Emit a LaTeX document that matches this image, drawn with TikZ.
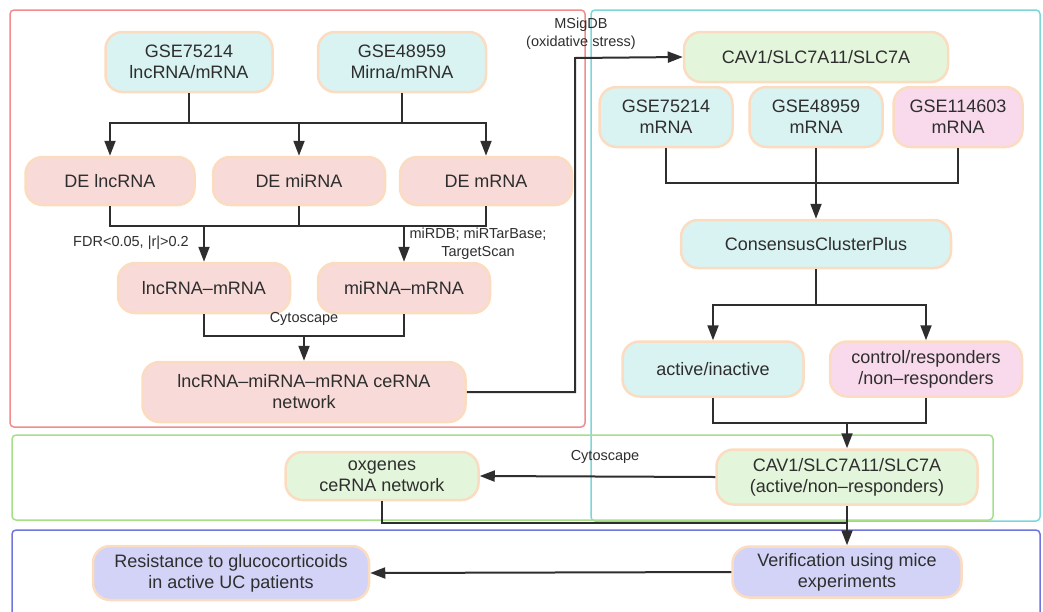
\documentclass[tikz,border=0pt]{standalone}
\usepackage{fontspec}
\setmainfont{Liberation Sans}
\usetikzlibrary{arrows.meta}
\definecolor{peach}{HTML}{FCDCC0}
\definecolor{fcyan}{HTML}{D8F3F2}
\definecolor{fpink}{HTML}{F8DAD8}
\definecolor{fgreen}{HTML}{E3F5DA}
\definecolor{fmag}{HTML}{F8DAEC}
\definecolor{flav}{HTML}{D2D3F6}
\definecolor{rred}{HTML}{F08C8C}
\definecolor{rcyan}{HTML}{7DD6DA}
\definecolor{rgreen}{HTML}{A5DF8A}
\definecolor{rblue}{HTML}{7075E0}
\definecolor{ink}{HTML}{2E2E2E}
\newcommand\mainfs{\fontsize{18}{21}\selectfont}
\newcommand\labfs{\fontsize{14.5}{18}\selectfont}
\tikzset{
  box/.style={draw=peach, line width=2.5pt, rounded corners=17pt, align=center,
    font=\mainfs, text=ink, inner sep=0pt},
  frame/.style={line width=1.5pt, rounded corners=4pt},
  ln/.style={draw=ink, line width=2pt},
  arr/.style={ln, -{Triangle[length=15pt,width=11pt]}},
  lab/.style={font=\labfs, text=ink, align=center, inner sep=0pt},
}
\begin{document}
\begin{tikzpicture}[x=1pt,y=-1pt]
\useasboundingbox (0,0) rectangle (1043,611);
\clip (0,0) rectangle (1043,611);
% frames
\draw[frame, rred] (10,10) rectangle (585,427);
\draw[frame, rcyan] (591,10) rectangle (1040,521);
\draw[frame, rgreen] (12,435) rectangle (993,520);
\draw[frame, rblue] (12,530) rectangle (1040,640);
% left panel nodes
\node[box, fill=fcyan, minimum width=167pt, minimum height=60pt] (g1) at (189,62) {GSE75214\\lncRNA/mRNA};
\node[box, fill=fcyan, minimum width=168pt, minimum height=60pt] (g2) at (402,62) {GSE48959\\Mirna/mRNA};
\node[box, fill=fpink, minimum width=169pt, minimum height=48pt] (d1) at (110,181) {DE lncRNA};
\node[box, fill=fpink, minimum width=172pt, minimum height=48pt] (d2) at (299,181) {DE miRNA};
\node[box, fill=fpink, minimum width=172pt, minimum height=48pt] (d3) at (486,181) {DE mRNA};
\node[box, fill=fpink, minimum width=172pt, minimum height=50pt] (lm) at (204,288) {lncRNA–mRNA};
\node[box, fill=fpink, minimum width=172pt, minimum height=50pt] (mm) at (404,288) {miRNA–mRNA};
\node[box, fill=fpink, minimum width=323pt, minimum height=60pt] (ce) at (304,392) {lncRNA–miRNA–mRNA ceRNA\\network};
% right panel nodes
\node[box, fill=fgreen, minimum width=264pt, minimum height=50pt] (cav) at (816,57) {CAV1/SLC7A11/SLC7A};
\node[box, fill=fcyan, minimum width=133pt, minimum height=60pt] (r1) at (666,117) {GSE75214\\mRNA};
\node[box, fill=fcyan, minimum width=133pt, minimum height=60pt] (r2) at (816,117) {GSE48959\\mRNA};
\node[box, fill=fmag, minimum width=129pt, minimum height=60pt] (r3) at (958,117) {GSE114603\\mRNA};
\node[box, fill=fcyan, minimum width=270pt, minimum height=48pt] (cc) at (816,244) {ConsensusClusterPlus};
\node[box, fill=fcyan, minimum width=181pt, minimum height=55pt] (ai) at (713,369) {active/inactive};
\node[box, fill=fmag, minimum width=192pt, minimum height=55pt] (cr) at (926,369) {control/responders\\/non–responders};
% green panel
\node[box, fill=fgreen, minimum width=261pt, minimum height=55pt] (cav2) at (847,477) {CAV1/SLC7A11/SLC7A\\(active/non–responders)};
\node[box, fill=fgreen, minimum width=193pt, minimum height=48pt] (ox) at (382,476) {oxgenes\\ceRNA network};
% blue panel
\node[box, fill=flav, minimum width=229pt, minimum height=51pt] (ver) at (847,572) {Verification using mice\\experiments};
\node[box, fill=flav, minimum width=276pt, minimum height=54pt] (res) at (231,573) {Resistance to glucocorticoids\\in active UC patients};
% junctions
\coordinate (b1) at (299,123);
\coordinate (b2) at (304,226);
\coordinate (b3) at (304,336);
\coordinate (t1) at (575,58);
\coordinate (b4) at (816,183);
\coordinate (b5) at (816,305);
\coordinate (b6) at (847,423);
\coordinate (b7) at (847,523);
% left connectors
\draw[ln] (g1.south) |- (b1);
\draw[ln] (g2.south) |- (b1);
\draw[arr] (b1) -| (d1.north);
\draw[arr] (b1) -- (d2.north);
\draw[arr] (b1) -| (d3.north);
\draw[ln] (d1.south) |- (b2);
\draw[ln] (d2.south) |- (b2);
\draw[ln] (d3.south) |- (b2);
\draw[arr] (lm.north |- b2) -- (lm.north);
\draw[arr] (mm.north |- b2) -- (mm.north);
\draw[ln] (lm.south) |- (b3);
\draw[ln] (mm.south) |- (b3);
\draw[arr] (b3) -- (ce.north);
\draw[arr] (ce.east) -| (t1) -- (cav.west);
% right connectors
\draw[ln] (r1.south) |- (b4);
\draw[ln] (r2.south) -- (b4);
\draw[ln] (r3.south) |- (b4);
\draw[arr] (b4) -- (cc.north);
\draw[ln] (cc.south) -- (b5);
\draw[arr] (b5) -| (ai.north);
\draw[arr] (b5) -| (cr.north);
\draw[ln] (ai.south) |- (b6);
\draw[ln] (cr.south) |- (b6);
\draw[arr] (b6) -- (cav2.north);
\draw[arr] (cav2.west) -- (ox.east);
\draw[ln] (ox.south) |- (b7);
\draw[arr] (cav2.south) -- (ver.north);
\draw[arr] (ver.west) -- (res.east);
% labels
\node[lab] (l1) at (131,243) {FDR<0.05, |r|>0.2};
\node[lab] (l2) at (478,244) {miRDB; miRTarBase;\\TargetScan};
\node[lab] (l3) at (304,319) {Cytoscape};
\node[lab] (l4) at (581,34) {MSigDB\\(oxidative stress)};
\node[lab] (l5) at (605,457) {Cytoscape};
\end{tikzpicture}
\end{document}
